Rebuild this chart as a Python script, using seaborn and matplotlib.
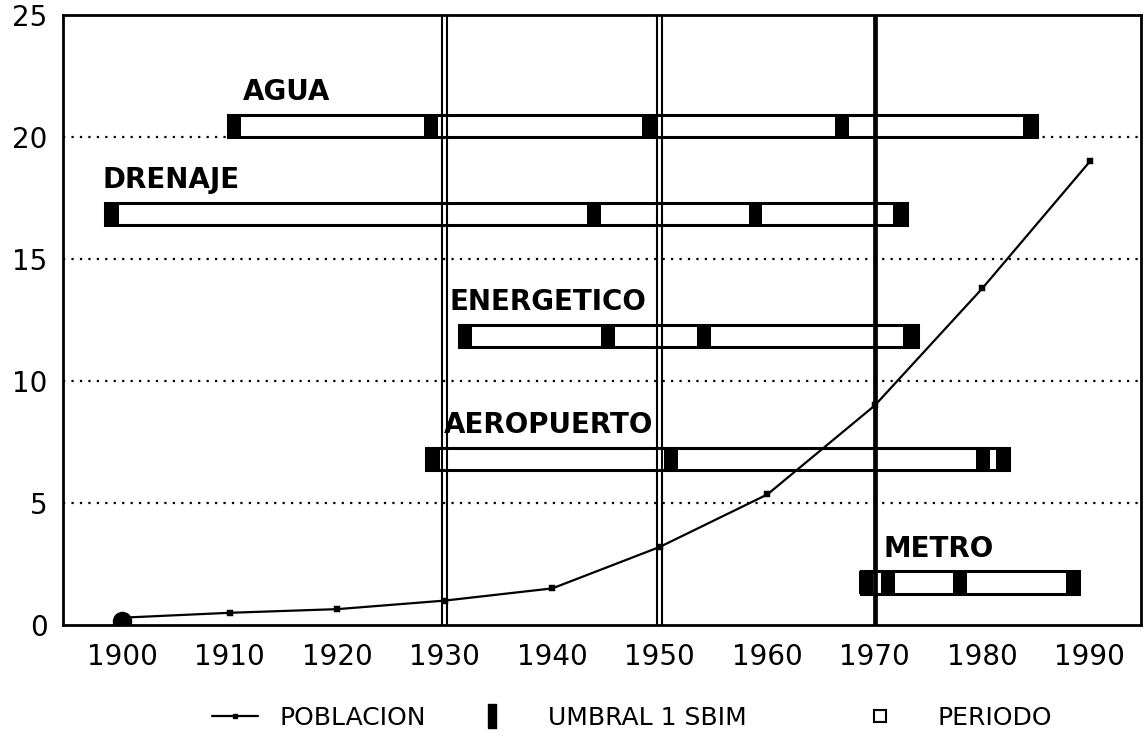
import matplotlib
matplotlib.use("Agg")
import matplotlib.pyplot as plt
from matplotlib.lines import Line2D
import numpy as np
import pandas as pd
import seaborn as sns

# Population (millions) by census year
anios = [1900, 1910, 1920, 1930, 1940, 1950, 1960, 1970, 1980, 1990]
poblacion = [0.3, 0.5, 0.65, 1.0, 1.5, 3.2, 5.35, 9.0, 13.8, 19.0]

# Infrastructure systems: level on the y scale, period covered, and thresholds
sistemas = ["AGUA", "DRENAJE", "ENERGETICO", "AEROPUERTO", "METRO"]
nivel = [20.45, 16.85, 11.85, 6.8, 1.75]
inicio = [1909.8, 1898.4, 1931.3, 1928.3, 1968.7]
fin = [1985.1, 1973.0, 1974.0, 1982.5, 1989.0]
umbral_agua = [1910.4, 1928.7, 1949.0, 1966.9, 1984.4]
umbral_drenaje = [1899.1, 1943.9, 1958.9, 1972.3]
umbral_energetico = [1931.9, 1945.2, 1954.1, 1973.3]
umbral_aeropuerto = [1928.9, 1951.0, 1980.1, 1981.9]
umbral_metro = [1969.2, 1971.2, 1977.9, 1988.4]
umbrales = [umbral_agua, umbral_drenaje, umbral_energetico,
            umbral_aeropuerto, umbral_metro]

# Reference years marked across the chart
hitos_dobles = [1930, 1950]
hitos_simples = [1970]

xticks = list(range(1900, 1991, 10))
yticks = [0, 5, 10, 15, 20, 25]

leyenda = ["POBLACION", "UMBRAL 1 SBIM", "PERIODO"]

# layout
etiqueta_x = [1911.2, 1898.2, 1930.4, 1929.9, 1970.8]
etiqueta_dy = 1.38
alto_barra = 0.92
ancho_umbral = 1.3

sns.set_style("white")
plt.rcParams["font.family"] = ["DejaVu Sans"]
plt.rcParams["text.color"] = "black"
plt.rcParams["xtick.color"] = "black"
plt.rcParams["ytick.color"] = "black"

W, H = 1148, 746
fig = plt.figure(figsize=(W / 100, H / 100), dpi=100)
ax = fig.add_axes([63 / W, 1 - 625 / H, (1141 - 63) / W, (625 - 15) / H])

# dotted horizontal grid
for y in yticks[1:-1]:
    ax.axhline(y, color="black", lw=1.6, ls=(0, (1, 2.8)), zorder=1)

# period bars and threshold blocks
for i, nombre in enumerate(sistemas):
    ax.barh(nivel[i], fin[i] - inicio[i], left=inicio[i], height=alto_barra,
            facecolor="white", edgecolor="black", linewidth=2.2, zorder=3)
    for u in umbrales[i]:
        ax.barh(nivel[i], ancho_umbral, left=u - ancho_umbral / 2,
                height=alto_barra, color="black", linewidth=0, zorder=4)
    ax.text(etiqueta_x[i], nivel[i] + etiqueta_dy, nombre, fontsize=20,
            fontweight="bold", color="black", ha="left", va="center",
            zorder=4)

# reference year lines
for a in hitos_dobles:
    for dx in (-0.22, 0.22):
        ax.axvline(a + dx, color="black", lw=1.5, zorder=5)
for a in hitos_simples:
    ax.axvline(a, color="black", lw=3.4, zorder=5)

# population curve
df = pd.DataFrame({"anio": anios, "poblacion": poblacion})
sns.lineplot(data=df, x="anio", y="poblacion", color="black", lw=1.6,
             ax=ax, zorder=6)
sns.scatterplot(data=df, x="anio", y="poblacion", marker="s", s=16,
                color="black", edgecolor="black", ax=ax, zorder=7)
ax.plot(anios[0], poblacion[0] - 0.15, marker="o", ms=13, color="black",
        zorder=7)

ax.set_xlim(1894.5, 1994.75)
ax.set_ylim(0, 25)
ax.set_xticks(xticks)
ax.set_yticks(yticks)
ax.set_xlabel("")
ax.set_ylabel("")
ax.tick_params(axis="x", direction="in", length=6, width=1.4,
               labelsize=20, pad=13, colors="black")
ax.tick_params(axis="y", direction="out", length=6, width=1.4,
               labelsize=20, pad=5, colors="black")
for s in ax.spines.values():
    s.set_color("black")
    s.set_linewidth(2.0)

# legend: one entry per block so each sits where it belongs
barra = [(-0.32, -1), (0.32, -1), (0.32, 1), (-0.32, 1), (-0.32, -1)]
handles = [
    Line2D([], [], color="black", lw=1.6, marker="s", ms=3.5),
    Line2D([], [], ls="none", marker=barra, ms=17, mfc="black", mec="black"),
    Line2D([], [], ls="none", marker="s", ms=9, mfc="white", mec="black",
           mew=1.5),
]
leg_x = [212, 479, 867]
leg_len = [1.84, 1.0, 1.0]
leg_pad = [0.88, 1.74, 1.82]
for h, lab, x0, hl, hp in zip(handles, leyenda, leg_x, leg_len, leg_pad):
    lg = fig.legend([h], [lab], loc="center left",
                    bbox_to_anchor=(x0 / W, 1 - 718 / H), frameon=False,
                    fontsize=18, handlelength=hl, handletextpad=hp,
                    borderpad=0, borderaxespad=0)
    for t in lg.get_texts():
        t.set_color("black")

fig.savefig("out.png", dpi=100, facecolor="white")
